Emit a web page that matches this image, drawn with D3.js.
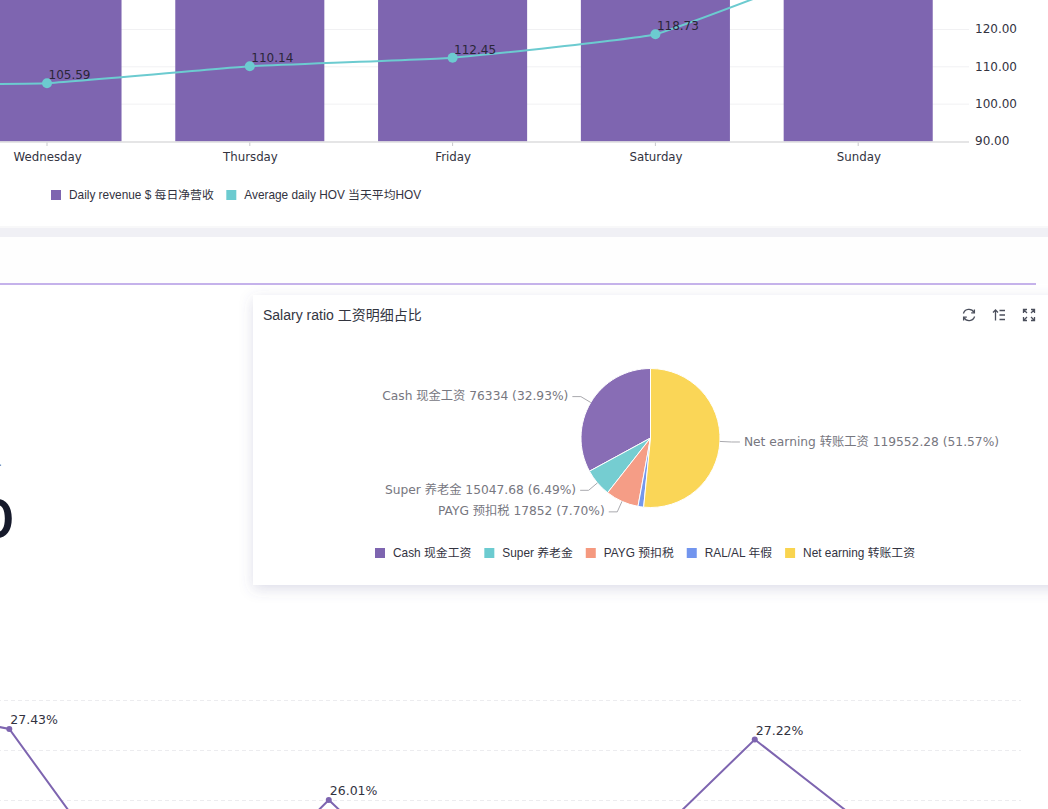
<!DOCTYPE html>
<html>
<head>
<meta charset="utf-8">
<script src="https://cdn.jsdelivr.net/npm/d3@7"></script>
<style>
  html, body { margin: 0; padding: 0; background: #fff; overflow: hidden; }
  svg { display: block; }
  text { font-family: "DejaVu Sans", "Noto Sans CJK SC", sans-serif; }
  .legend text, .title { font-family: "Liberation Sans", "Noto Sans CJK SC", sans-serif; }
</style>
</head>
<body>
<div id="page"></div>
<script>
// Data. Monday, Tuesday, the bar heights, Sunday's HOV and most of
// the lower line fall outside the crop, so those are estimates.
var days = ["Monday", "Tuesday", "Wednesday", "Thursday", "Friday", "Saturday", "Sunday"];
var dailyRevenue = [5200, 5400, 5600, 6100, 6500, 7900, 8600];
var dailyHov = [103.2, 105.1, 105.59, 110.14, 112.45, 118.73, 139];
var hovTicks = [90, 100, 110, 120];
var revenueLegend = ["Daily revenue $ 每日净营收", "Average daily HOV 当天平均HOV"];

var salaryNames = ["Cash 现金工资", "Super 养老金", "PAYG 预扣税", "RAL/AL 年假", "Net earning 转账工资"];
var salaryValues = [76334, 15047.68, 17852, 3037, 119552.28];
var salaryPercents = ["32.93", "6.49", "7.70", "1.31", "51.57"];
var salaryLabelled = [true, true, true, false, true];

var ratioPeriods = ["a", "b", "c", "d", "e", "f", "g", "h", "i", "j", "k"];
var ratioValues = [27.86, 27.43, 24.5, 23.9, 26.01, 24.0, 24.5, 25.15, 27.22, 25.56, 25.2];
var ratioLabelled = [false, true, false, false, true, false, false, false, true, false, false];
var ratioTicks = [26, 27, 28];

var revenueColors = ["#7e65b0", "#6ccbd0"];
var salaryLegendColors = ["#7e65b0", "#6ccbd0", "#f5997f", "#7295ee", "#f9d44f"];
var salaryColors = ["#886db5", "#75cdd1", "#f59d86", "#7598ec", "#fad657"];

var svgWidth = 1048;
var svgHeight = 809;

var svg = d3.select("#page")
  .append("svg")
  .attr("width", svgWidth)
  .attr("height", svgHeight);

// Card shadow
var defs = svg.append("defs");
var shadow = defs.append("filter")
  .attr("id", "cardShadow")
  .attr("x", "-10%").attr("y", "-20%")
  .attr("width", "120%").attr("height", "140%");
shadow.append("feDropShadow")
  .attr("dx", 0).attr("dy", 4)
  .attr("stdDeviation", 7)
  .attr("flood-color", "#5c5c90")
  .attr("flood-opacity", 0.2);

// Page background and cards
svg.append("rect").attr("x", 0).attr("y", 228).attr("width", svgWidth).attr("height", 9).attr("fill", "#f0f0f5");
svg.append("rect").attr("x", -20).attr("y", -20).attr("width", svgWidth + 40).attr("height", 247)
  .attr("fill", "#fff").attr("stroke", "#e6e6ec").attr("stroke-width", 0.6);
svg.append("rect").attr("x", 0).attr("y", 237).attr("width", svgWidth).attr("height", 47).attr("fill", "#fefefe");
svg.append("line").attr("x1", 0).attr("x2", 1036).attr("y1", 284).attr("y2", 284)
  .attr("stroke", "#b298e4").attr("stroke-width", 1.6);
svg.append("rect").attr("x", 253).attr("y", 295).attr("width", 830).attr("height", 290)
  .attr("fill", "#fff").attr("filter", "url(#cardShadow)");

// ---- Daily revenue / HOV chart ----
var xDays = d3.scaleBand()
  .domain(days)
  .range([-460, 959.6])
  .paddingInner(0.265)
  .paddingOuter(0.1325);

var yHov = d3.scaleLinear().domain([90, 120]).range([141.5, 29.5]);
var yRevenue = d3.scaleLinear().domain([0, 10000]).range([141.5, -300]);

var dayCenter = function(i) { return xDays(days[i]) + xDays.bandwidth() / 2; };

var topChart = svg.append("g");

topChart.selectAll(".grid")
  .data(hovTicks.slice(1))
  .enter()
  .append("line")
  .attr("x1", -10).attr("x2", 969)
  .attr("y1", d => yHov(d)).attr("y2", d => yHov(d))
  .attr("stroke", "#f1f1f3");

topChart.selectAll(".bar")
  .data(days)
  .enter()
  .append("rect")
  .attr("x", d => xDays(d))
  .attr("y", (d, i) => yRevenue(dailyRevenue[i]))
  .attr("width", xDays.bandwidth())
  .attr("height", (d, i) => yRevenue(0) - yRevenue(dailyRevenue[i]))
  .attr("fill", revenueColors[0]);

// Monday and Tuesday sit left of the crop, so their ticks are left out
var dayAxis = topChart.append("g")
  .attr("transform", "translate(0, 142)")
  .call(d3.axisBottom(xDays).tickValues(days.slice(2)).tickSize(4).tickPadding(7));
dayAxis.select(".domain").remove();
dayAxis.selectAll("line").attr("stroke", "#c9c9cd");
dayAxis.selectAll("text").attr("font-size", 11.8).attr("dx", 0.6).attr("fill", "#33333f")
  .style("font-family", "'DejaVu Sans'");

topChart.append("line")
  .attr("x1", -10).attr("x2", 969)
  .attr("y1", 142).attr("y2", 142)
  .attr("stroke", "#dcdcde").attr("stroke-width", 1.5);

var hovAxis = topChart.append("g")
  .attr("transform", "translate(969, -0.5)")
  .call(d3.axisRight(yHov).tickValues(hovTicks).tickFormat(d3.format(".2f")).tickSize(0).tickPadding(6));
hovAxis.select(".domain").remove();
hovAxis.selectAll("text").attr("font-size", 12).attr("fill", "#33333f")
  .style("font-family", "'DejaVu Sans'");

var hovLine = d3.line()
  .x((d, i) => dayCenter(i))
  .y(d => yHov(d))
  .curve(d3.curveCardinal.tension(0.7));

topChart.append("path")
  .datum(dailyHov)
  .attr("d", hovLine)
  .attr("fill", "none")
  .attr("stroke", revenueColors[1])
  .attr("stroke-width", 2);

topChart.selectAll(".hovPoint")
  .data(dailyHov)
  .enter()
  .append("circle")
  .attr("cx", (d, i) => dayCenter(i))
  .attr("cy", d => yHov(d))
  .attr("r", 5)
  .attr("fill", revenueColors[1]);

// Only Wednesday to Saturday have their labels inside the crop
topChart.selectAll(".hovLabel")
  .data(dailyHov.slice(2, 6))
  .enter()
  .append("text")
  .attr("x", (d, i) => dayCenter(i + 2) + 1.5)
  .attr("y", d => yHov(d) - 4)
  .attr("font-size", 12)
  .attr("fill", "#2a2638")
  .text(d => d3.format(".2f")(d));

// Legends laid out from the measured text widths
function drawLegend(names, colors, startX, y, gap) {
  var g = svg.append("g").attr("class", "legend");
  var x = startX;
  names.forEach(function(name, i) {
    g.append("rect")
      .attr("x", x).attr("y", y - 5)
      .attr("width", 10).attr("height", 10)
      .attr("fill", colors[i]);
    var label = g.append("text")
      .attr("x", x + 18).attr("y", y + 4)
      .attr("font-size", 11.85)
      .attr("fill", "#33333f")
      .text(name);
    x += 18 + label.node().getComputedTextLength() + gap;
  });
}

drawLegend(revenueLegend, revenueColors, 51, 195, 12.5);

// ---- Salary ratio pie ----
svg.append("text")
  .attr("class", "title")
  .attr("x", 263).attr("y", 320)
  .attr("font-size", 14)
  .attr("fill", "#33353f")
  .text("Salary ratio 工资明细占比");

var pieCenter = [650.5, 438];
var pieRadius = 69.5;
var pieGroup = svg.append("g").attr("transform", `translate(${pieCenter[0]}, ${pieCenter[1]})`);

// ECharts style: first slice starts at the top and runs counter clockwise
var pie = d3.pie().sort(null).startAngle(0).endAngle(-2 * Math.PI);
var arcs = pie(salaryValues);
var arc = d3.arc().innerRadius(0).outerRadius(pieRadius);

pieGroup.selectAll("path.slice")
  .data(arcs)
  .enter()
  .append("path")
  .attr("class", "slice")
  .attr("d", arc)
  .attr("fill", (d, i) => salaryColors[i])
  .attr("stroke", "#fff")
  .attr("stroke-width", 1);

arcs.forEach(function(d, i) {
  if (!salaryLabelled[i]) return;
  var mid = (d.startAngle + d.endAngle) / 2;
  var side = Math.sin(mid) < 0 ? -1 : 1;
  var p1 = [Math.sin(mid) * pieRadius, -Math.cos(mid) * pieRadius];
  var p2 = [Math.sin(mid) * (pieRadius + 11.5), -Math.cos(mid) * (pieRadius + 11.5)];
  var p3 = [p2[0] + side * 8.5, p2[1]];
  pieGroup.append("path")
    .attr("d", d3.line()([p1, p2, p3]))
    .attr("fill", "none")
    .attr("stroke", "#a9a9ae")
    .attr("stroke-width", 1);
  pieGroup.append("text")
    .attr("x", p3[0] + side * 4)
    .attr("y", p3[1] + 3.5)
    .attr("text-anchor", side < 0 ? "end" : "start")
    .attr("font-size", 12.25)
    .attr("fill", "#77777f")
    .text(salaryNames[i] + " " + salaryValues[i] + " (" + salaryPercents[i] + "%)");
});

drawLegend(salaryNames, salaryLegendColors, 375, 553, 13);

// Toolbox icons
var iconColor = "#4b4f5c";
var refresh = svg.append("g").attr("transform", "translate(969, 315)")
  .attr("fill", "none").attr("stroke", iconColor).attr("stroke-width", 1.3);
refresh.append("path").attr("d", "M-5.6 -1.5A5.8 5.8 0 0 1 5 -2.6");
refresh.append("path").attr("d", "M5.6 1.5A5.8 5.8 0 0 1 -5 2.6");
refresh.append("path").attr("d", "M5.4 -5.4V-2.2H2.2");
refresh.append("path").attr("d", "M-5.4 5.4V2.2H-2.2");

var sortIcon = svg.append("g").attr("transform", "translate(999, 315)")
  .attr("fill", "none").attr("stroke", iconColor).attr("stroke-width", 1.3);
sortIcon.append("path").attr("d", "M-3.5 5.5V-5M-6 -2.5L-3.5 -5L-1 -2.5");
sortIcon.append("path").attr("d", "M0.5 -4.5H6M0.5 0H6M0.5 4.5H6");

var expand = svg.append("g").attr("transform", "translate(1029, 315)")
  .attr("fill", "none").attr("stroke", iconColor).attr("stroke-width", 1.3);
[[-1, -1], [1, -1], [1, 1], [-1, 1]].forEach(function(c) {
  expand.append("path").attr("d",
    `M${c[0] * 5.5} ${c[1] * 2}V${c[1] * 5.5}H${c[0] * 2}M${c[0] * 5.5} ${c[1] * 5.5}L${c[0] * 2} ${c[1] * 2}`);
});

// ---- Cropped figure on the left of the pie ----
svg.append("text")
  .attr("x", 14.5).attr("y", 537.5)
  .attr("text-anchor", "end")
  .attr("font-size", 53)
  .attr("font-weight", 600)
  .attr("fill", "#161a2b")
  .style("font-family", "Inter")
  .text("0");
svg.append("text")
  .attr("x", 2).attr("y", 466)
  .attr("text-anchor", "end")
  .attr("font-size", 12)
  .attr("fill", "#77777f")
  .text(".");

// ---- Lower percentage line ----
var xRatio = d3.scaleBand()
  .domain(ratioPeriods)
  .range([-150.45, 1021]);
var yRatio = d3.scaleLinear().domain([26, 28]).range([800.5, 700.5]);

var lowChart = svg.append("g");

lowChart.selectAll(".ratioGrid")
  .data(ratioTicks)
  .enter()
  .append("line")
  .attr("x1", -10).attr("x2", 1021)
  .attr("y1", d => yRatio(d)).attr("y2", d => yRatio(d))
  .attr("stroke", "#ececef")
  .attr("stroke-dasharray", "4 3");

var ratioLine = d3.line()
  .x((d, i) => xRatio(ratioPeriods[i]) + xRatio.bandwidth() / 2)
  .y(d => yRatio(d));

lowChart.append("path")
  .datum(ratioValues)
  .attr("d", ratioLine)
  .attr("fill", "none")
  .attr("stroke", revenueColors[0])
  .attr("stroke-width", 2);

lowChart.selectAll(".ratioPoint")
  .data(ratioValues)
  .enter()
  .append("circle")
  .attr("cx", (d, i) => xRatio(ratioPeriods[i]) + xRatio.bandwidth() / 2)
  .attr("cy", d => yRatio(d))
  .attr("r", 3)
  .attr("fill", revenueColors[0]);

lowChart.selectAll(".ratioLabel")
  .data(ratioValues)
  .enter()
  .append("text")
  .filter((d, i) => ratioLabelled[i])
  .attr("x", function(d) { return xRatio(ratioPeriods[ratioValues.indexOf(d)]) + xRatio.bandwidth() / 2 + 1; })
  .attr("y", d => yRatio(d) - 5)
  .attr("font-size", 12.5)
  .attr("fill", "#33333f")
  .text(d => d3.format(".2f")(d) + "%");
</script>
</body>
</html>
